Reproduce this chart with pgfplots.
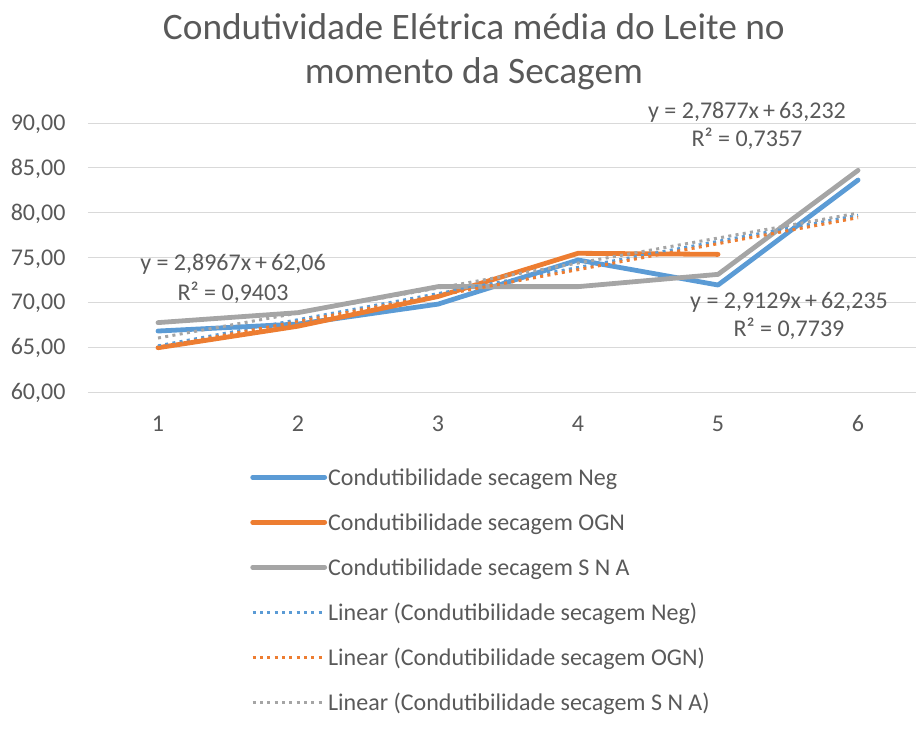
\documentclass[border=0pt]{standalone}
\usepackage{fontspec}
\setmainfont{Carlito}
\usepackage{pgfplots}
\pgfplotsset{compat=1.18}
\definecolor{cblue}{HTML}{5B9BD5}
\definecolor{corange}{HTML}{ED7D31}
\definecolor{cgray}{HTML}{A5A5A5}
\definecolor{ctext}{HTML}{595959}
\definecolor{cgrid}{HTML}{D9D9D9}
\begin{document}
\begin{tikzpicture}
\path[use as bounding box] (-66pt,-254.25pt) rectangle (621pt,294pt);
\begin{axis}[
 at={(0,0)}, anchor=south west,
 scale only axis, width=621pt, height=201.75pt,
 xmin=0.5, xmax=6.414, ymin=60, ymax=90,
 xtick={1,2,3,4,5,6}, ytick={60,65,70,75,80,85,90},
 ymajorgrids, grid style={cgrid, line width=0.75pt},
 axis line style={draw=none},
 major tick length=0pt,
 clip=false,
 font=\fontsize{18}{21.6}\selectfont,
 tick label style={text=ctext, font=\fontsize{18}{21.6}\selectfont, inner sep=0pt},
 /pgf/number format/assume math mode=true,
 yticklabel={\pgfmathprintnumber[fixed,fixed zerofill,precision=2,use comma,assume math mode=true]{\tick}},
 xticklabel={\pgfmathprintnumber[assume math mode=true]{\tick}},
 yticklabel style={anchor=base east, xshift=-16.7pt, yshift=-5.7pt},
 xticklabel style={anchor=base, yshift=-29.6pt},
 legend style={at={(0.1957,-0.2323)}, anchor=north west, draw=none, fill=none,
   row sep=0pt, column sep=0pt, inner sep=0pt, text=ctext,
   font=\fontsize{18}{21.6}\selectfont,
   nodes={inner ysep=0pt, inner xsep=0.8pt, text height=22.9pt, text depth=10.85pt}},
 legend cell align=left,
 legend image code/.code={\draw[#1] (0pt,0pt) -- (54pt,0pt);},
]
\addplot[cblue, line width=3.6pt, line cap=round, line join=round] coordinates {(1,66.80)(2,67.58)(3,69.80)(4,74.72)(5,71.93)(6,83.64)};
\addlegendentry{Condutibilidade secagem Neg}
\addplot[corange, line width=3.6pt, line cap=round, line join=round] coordinates {(1,64.94)(2,67.34)(3,70.65)(4,75.47)(5,75.35)};
\addlegendentry{Condutibilidade secagem OGN}
\addplot[cgray, line width=3.6pt, line cap=round, line join=round] coordinates {(1,67.74)(2,68.85)(3,71.75)(4,71.75)(5,73.12)(6,84.72)};
\addlegendentry{Condutibilidade secagem S N A}
\addplot[cblue, line width=2.25pt, dash pattern=on 2.25pt off 3.25pt] coordinates {(1,65.148)(6,79.712)};
\addlegendentry{Linear (Condutibilidade secagem Neg)}
\addplot[corange, line width=2.25pt, dash pattern=on 2.25pt off 3.25pt] coordinates {(1,64.957)(6,79.440)};
\addlegendentry{Linear (Condutibilidade secagem OGN)}
\addplot[cgray, line width=2.25pt, dash pattern=on 2.25pt off 3.25pt] coordinates {(1,66.019)(6,79.958)};
\addlegendentry{Linear (Condutibilidade secagem S N A)}
\node[anchor=base, text=ctext, font=\fontsize{28}{33}\selectfont] at (rel axis cs:0.466,1.3086) {Condutividade Elétrica média do Leite no};
\node[anchor=base, text=ctext, font=\fontsize{28}{33}\selectfont] at (rel axis cs:0.466,1.145) {momento da Secagem};
\node[anchor=base, text=ctext, inner sep=0pt] at (axis cs:1.536,73.53) {y = 2,8967x\,+\,62,06};
\node[anchor=base, text=ctext, inner sep=0pt] at (axis cs:1.536,70.18) {R² = 0,9403};
\node[anchor=base, text=ctext, inner sep=0pt] at (axis cs:5.507,69.33) {y = 2,9129x\,+\,62,235};
\node[anchor=base, text=ctext, inner sep=0pt] at (axis cs:5.507,66.17) {R² = 0,7739};
\node[anchor=base, text=ctext, inner sep=0pt] at (axis cs:5.207,90.52) {y = 2,7877x\,+\,63,232};
\node[anchor=base, text=ctext, inner sep=0pt] at (axis cs:5.207,87.36) {R² = 0,7357};
\end{axis}
\end{tikzpicture}
\end{document}
